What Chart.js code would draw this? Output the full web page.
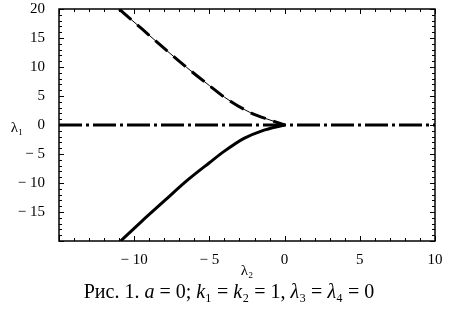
<!DOCTYPE html>
<html>
<head>
<meta charset="utf-8">
<script src="https://cdn.jsdelivr.net/npm/chart.js@4"></script>
<style>
  html, body { margin: 0; padding: 0; background: #fff; }
  #wrap { width: 455px; height: 309px; }
</style>
</head>
<body>
<div id="wrap"><canvas id="lambdaChart" width="455" height="309"></canvas></div>
<script>
// upper branch (lambda2, lambda1)
const upperX = [-11.0, -9.5, -8.0, -6.5, -5.0, -4.0, -2.25, -0.9, 0];
const upperY = [20, 16.6, 13.2, 9.9, 6.8, 4.8, 2.1, 0.8, 0];
// lower branch
const lowerX = [-10.9, -9.5, -8.0, -6.5, -5.0, -4.0, -2.7, -1.5, 0];
const lowerY = [-20, -16.6, -13.1, -9.6, -6.5, -4.5, -2.3, -1.0, 0];
// horizontal line lambda1 = 0
const zeroX = [-15, 10];
const zeroY = [0, 0];

const xTickLabels = [-10, -5, 0, 5, 10];
const yTickLabels = [-15, -10, -5, 0, 5, 10, 15, 20];
// caption pieces: [text, italic]
const caption = [
  ['Рис. 1. ', false], ['a', true], [' = 0; ', false], ['k', true], ['₁ = ', false],
  ['k', true], ['₂ = 1, ', false], ['λ', true], ['₃ = ', false], ['λ', true], ['₄ = 0', false]
];

const toPoints = (xs, ys) => xs.map((x, i) => ({ x: x, y: ys[i] }));
const fmt = v => (v < 0 ? '\u2212 ' + Math.abs(v) : String(v));

// frame, inside ticks and extra texts
const framePlugin = {
  id: 'frame',
  afterDraw(chart) {
    const ctx = chart.ctx;
    const a = chart.chartArea;
    const xs = chart.scales.x, ys = chart.scales.y;
    ctx.save();
    ctx.strokeStyle = '#000';
    ctx.lineWidth = 1.5;
    ctx.strokeRect(a.left, a.top, a.right - a.left, a.bottom - a.top);
    ctx.lineWidth = 1;
    ctx.beginPath();
    for (let v = -15; v <= 10; v++) {
      const px = Math.round(xs.getPixelForValue(v)) + 0.5;
      const len = v % 5 === 0 ? 5 : 3;
      ctx.moveTo(px, a.bottom); ctx.lineTo(px, a.bottom - len);
      ctx.moveTo(px, a.top); ctx.lineTo(px, a.top + len);
    }
    for (let v = -20; v <= 20; v++) {
      const py = Math.round(ys.getPixelForValue(v)) + 0.5;
      const len = v % 5 === 0 ? 5 : 3;
      ctx.moveTo(a.left, py); ctx.lineTo(a.left + len, py);
      ctx.moveTo(a.right, py); ctx.lineTo(a.right - len, py);
    }
    ctx.stroke();

    ctx.fillStyle = '#000';
    ctx.textAlign = 'center';
    ctx.textBaseline = 'middle';
    ctx.font = '15px "Liberation Serif"';
    ctx.fillText('λ₁', 17, ys.getPixelForValue(0) + 3);
    ctx.fillText('λ₂', 247, 271);

    // caption with italic symbols
    ctx.textAlign = 'left';
    const size = 20;
    let total = 0;
    caption.forEach(([t, it]) => {
      ctx.font = (it ? 'italic ' : '') + size + 'px "Liberation Serif"';
      total += ctx.measureText(t).width;
    });
    let x = 229 - total / 2;
    caption.forEach(([t, it]) => {
      ctx.font = (it ? 'italic ' : '') + size + 'px "Liberation Serif"';
      ctx.fillText(t, x, 293);
      x += ctx.measureText(t).width;
    });
    ctx.restore();
  }
};

const ctx = document.getElementById('lambdaChart').getContext('2d');

const config = {
  type: 'scatter',
  data: {
    datasets: [
      {
        data: toPoints(zeroX, zeroY),
        showLine: true,
        borderColor: '#000',
        borderWidth: 3,
        borderDash: [23, 4, 3, 4],
        pointRadius: 0,
        tension: 0
      },
      {
        data: toPoints(upperX, upperY),
        showLine: true,
        borderColor: '#000',
        borderWidth: 1,
        pointRadius: 0,
        cubicInterpolationMode: 'monotone'
      },
      {
        data: toPoints(upperX, upperY),
        showLine: true,
        borderColor: '#000',
        borderWidth: 3,
        borderDash: [16, 8],
        pointRadius: 0,
        cubicInterpolationMode: 'monotone'
      },
      {
        data: toPoints(lowerX, lowerY),
        showLine: true,
        borderColor: '#000',
        borderWidth: 3,
        pointRadius: 0,
        cubicInterpolationMode: 'monotone'
      }
    ]
  },
  options: {
    responsive: false,
    animation: false,
    layout: { padding: { left: 0, right: 20, top: 9, bottom: 0 } },
    plugins: {
      legend: { display: false },
      tooltip: { enabled: false }
    },
    scales: {
      x: {
        type: 'linear',
        min: -15,
        max: 10,
        afterFit: s => { s.height = 68; s.paddingLeft = 0; s.paddingRight = 0; },
        afterBuildTicks: s => { s.ticks = xTickLabels.map(v => ({ value: v })); },
        grid: { display: false },
        border: { display: false },
        ticks: {
          color: '#000',
          font: { family: 'Liberation Serif', size: 15 },
          padding: 2,
          maxRotation: 0,
          callback: v => fmt(v)
        }
      },
      y: {
        type: 'linear',
        min: -20,
        max: 20,
        afterFit: s => { s.width = 59; s.paddingTop = 0; s.paddingBottom = 0; },
        afterBuildTicks: s => { s.ticks = yTickLabels.map(v => ({ value: v })); },
        grid: { display: false },
        border: { display: false },
        ticks: {
          color: '#000',
          font: { family: 'Liberation Serif', size: 15 },
          padding: 6,
          callback: v => fmt(v)
        }
      }
    }
  },
  plugins: [framePlugin]
};

const lambdaChart = new Chart(ctx, config);
</script>
</body>
</html>
